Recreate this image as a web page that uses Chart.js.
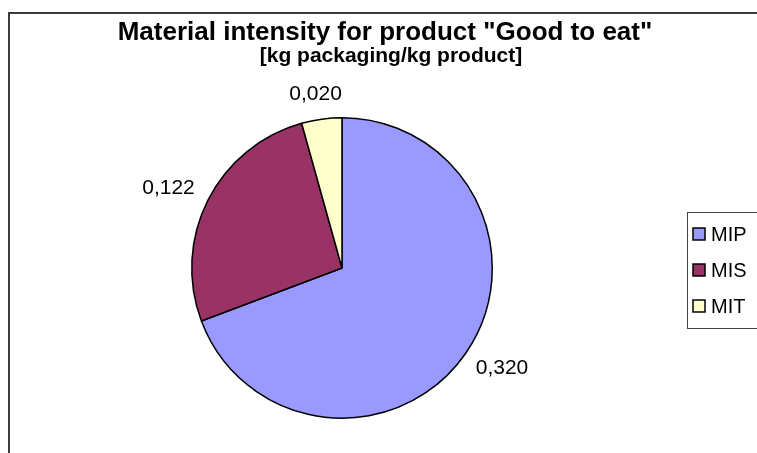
<!DOCTYPE html>
<html>
<head>
<meta charset="utf-8">
<script src="https://cdn.jsdelivr.net/npm/chart.js@4/dist/chart.umd.min.js"></script>
<style>
  html, body { margin: 0; padding: 0; background: #fff; }
  #wrap { width: 757px; height: 453px; }
</style>
</head>
<body>
<div id="wrap"><canvas id="c" width="757" height="453"></canvas></div>
<script>
// Packaging material intensity, kg packaging per kg product
const categories = ['MIP', 'MIS', 'MIT'];
const values = [0.320, 0.122, 0.020];
const sliceColors = ['#9999FF', '#993366', '#FFFFCC'];
const titleText = 'Material intensity for product "Good to eat"';
const subtitleText = '[kg packaging/kg product]';

const FONT = '"Liberation Sans", Arial, sans-serif';

function fmt(v) {
  return v.toFixed(3).replace('.', ',');
}

// Outer frame, titles and legend
const decorPlugin = {
  id: 'decor',
  beforeDraw(chart) {
    const ctx = chart.ctx;
    ctx.save();
    ctx.fillStyle = '#fff';
    ctx.fillRect(0, 0, chart.width, chart.height);
    ctx.strokeStyle = '#3c3c3c';
    ctx.lineWidth = 2;
    ctx.beginPath();
    ctx.moveTo(9, chart.height + 2);
    ctx.lineTo(9, 13);
    ctx.lineTo(chart.width + 2, 13);
    ctx.stroke();
    ctx.restore();
  },
  afterDraw(chart) {
    const ctx = chart.ctx;
    ctx.save();
    ctx.fillStyle = '#000';
    ctx.textAlign = 'center';
    ctx.textBaseline = 'middle';
    ctx.font = 'bold 26px ' + FONT;
    ctx.fillText(titleText, 385, 33);
    ctx.font = 'bold 21px ' + FONT;
    ctx.fillText(subtitleText, 391, 56);

    // legend
    ctx.strokeStyle = '#444';
    ctx.lineWidth = 1;
    ctx.strokeRect(687.5, 212.5, 100, 116);
    const ds = chart.data.datasets[0];
    ctx.textAlign = 'left';
    ctx.font = '20px ' + FONT;
    chart.data.labels.forEach((lab, i) => {
      const y = 234 + i * 36;
      ctx.fillStyle = ds.backgroundColor[i];
      ctx.fillRect(693, y - 6, 12, 12);
      ctx.strokeStyle = '#000';
      ctx.lineWidth = 1.5;
      ctx.strokeRect(693, y - 6, 12, 12);
      ctx.fillStyle = '#000';
      ctx.fillText(lab, 711, y + 1);
    });

    // value labels outside each slice
    const meta = chart.getDatasetMeta(0);
    ctx.font = '21px ' + FONT;
    ctx.textAlign = 'center';
    meta.data.forEach((arc, i) => {
      const p = arc.getProps(['x', 'y', 'startAngle', 'endAngle', 'outerRadius'], true);
      const mid = (p.startAngle + p.endAngle) / 2;
      const dx = Math.cos(mid), dy = Math.sin(mid);
      const txt = fmt(ds.data[i]);
      const hw = ctx.measureText(txt).width / 2;
      const hh = 7.5;
      const d = p.outerRadius + 18;
      const cx = p.x + dx * d + dx * hw;
      const cy = p.y + dy * d + dy * hh;
      ctx.fillStyle = '#000';
      ctx.fillText(txt, cx, cy);
    });
    ctx.restore();
  }
};

new Chart(document.getElementById('c'), {
  type: 'pie',
  data: {
    labels: categories,
    datasets: [{
      data: values,
      backgroundColor: sliceColors,
      borderColor: '#000',
      borderWidth: 1.5,
      borderAlign: 'center'
    }]
  },
  options: {
    responsive: false,
    animation: false,
    layout: { padding: { left: 191, right: 264, top: 117, bottom: 34 } },
    plugins: {
      legend: { display: false },
      title: { display: false },
      tooltip: { enabled: false }
    }
  },
  plugins: [decorPlugin]
});
</script>
</body>
</html>
